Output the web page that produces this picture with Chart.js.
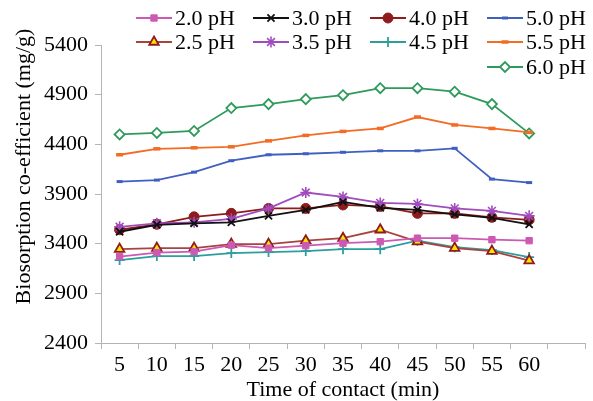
<!DOCTYPE html>
<html>
<head>
<meta charset="utf-8">
<script src="https://cdn.jsdelivr.net/npm/chart.js@4.4.1/dist/chart.umd.min.js"></script>
<style>
html,body{margin:0;padding:0;background:#fff;}
#wrap{width:593px;height:401px;position:relative;}
</style>
</head>
<body>
<div id="wrap"><canvas id="c" width="593" height="401"></canvas></div>
<script>
// ---- data ----
const times = ['5','10','15','20','25','30','35','40','45','50','55','60',''];
const yTickValues = [2400, 2900, 3400, 3900, 4400, 4900, 5400];
const seriesLabels = ['2.0 pH','2.5 pH','3.0 pH','3.5 pH','4.0 pH','4.5 pH','5.0 pH','5.5 pH','6.0 pH'];
const ph20 = [3270, 3310, 3320, 3385, 3355, 3380, 3405, 3420, 3455, 3455, 3440, 3430];
const ph25 = [3345, 3355, 3355, 3395, 3395, 3430, 3455, 3540, 3420, 3355, 3325, 3230];
const ph30 = [3520, 3590, 3605, 3615, 3680, 3740, 3820, 3760, 3740, 3695, 3660, 3595];
const ph35 = [3570, 3605, 3615, 3650, 3755, 3915, 3870, 3810, 3800, 3755, 3730, 3680];
const ph40 = [3540, 3595, 3670, 3705, 3755, 3755, 3790, 3775, 3705, 3705, 3665, 3640];
const ph45 = [3235, 3275, 3275, 3305, 3315, 3325, 3345, 3345, 3430, 3365, 3335, 3265];
const ph50 = [4025, 4040, 4120, 4235, 4295, 4305, 4320, 4335, 4335, 4360, 4050, 4015];
const ph55 = [4295, 4355, 4365, 4375, 4435, 4490, 4530, 4560, 4675, 4595, 4560, 4520];
const ph60 = [4500, 4515, 4535, 4765, 4805, 4855, 4895, 4965, 4965, 4930, 4805, 4510];

const FONT = "'Liberation Serif','Times New Roman',serif";

function ds(label, data, line, fill, stroke, style, radius, bw, rot) {
  return {
    label, data,
    borderColor: line, backgroundColor: line, borderWidth: 1.8,
    pointStyle: style, pointRadius: radius, pointHoverRadius: radius,
    pointBackgroundColor: fill, pointBorderColor: stroke,
    pointBorderWidth: bw, pointRotation: rot || 0,
    tension: 0, fill: false
  };
}

const datasets = [
  ds(seriesLabels[0], ph20, '#CC5AB4', '#CC5AB4', '#CC5AB4', 'rect', 4.5, 1),
  ds(seriesLabels[1], ph25, '#A8443E', '#FFE400', '#8E1C1C', 'triangle', 5.5, 1.8),
  ds(seriesLabels[2], ph30, '#111111', '#111111', '#111111', 'crossRot', 5, 1.8),
  ds(seriesLabels[3], ph35, '#A04CBE', '#A04CBE', '#A04CBE', 'star', 5.5, 1.6),
  ds(seriesLabels[4], ph40, '#8E1C1C', '#8E1C1C', '#8E1C1C', 'circle', 5, 1),
  ds(seriesLabels[5], ph45, '#2E9E9C', '#2E9E9C', '#2E9E9C', 'cross', 5, 1.8),
  ds(seriesLabels[6], ph50, '#4060C0', '#4060C0', '#4060C0', 'line', 3, 3),
  ds(seriesLabels[7], ph55, '#F36C24', '#F36C24', '#F36C24', 'line', 3.5, 3.5),
  ds(seriesLabels[8], ph60, '#2E9A5C', '#FFFFFF', '#2E9A5C', 'rectRot', 5, 1.8)
];

// legend slot (column,row) for each dataset index
const legendSlot = [[0,0],[0,1],[1,0],[1,1],[2,0],[2,1],[3,0],[3,1],[3,2]];

const customLegend = {
  id: 'customLegend',
  afterDraw(chart) {
    const ctx = chart.ctx;
    const colX = [136, 253, 370, 487];
    const rowY = [18, 42, 67];
    const lineLen = 36;
    ctx.save();
    chart.data.datasets.forEach((d, i) => {
      const [c, r] = legendSlot[i];
      const x0 = colX[c], y = rowY[r];
      ctx.strokeStyle = d.borderColor;
      ctx.lineWidth = d.borderWidth;
      ctx.beginPath();
      ctx.moveTo(x0, y);
      ctx.lineTo(x0 + lineLen, y);
      ctx.stroke();
      ctx.fillStyle = d.pointBackgroundColor;
      ctx.strokeStyle = d.pointBorderColor;
      ctx.lineWidth = d.pointBorderWidth;
      Chart.helpers.drawPoint(ctx, {
        pointStyle: d.pointStyle, rotation: d.pointRotation,
        radius: d.pointRadius, borderWidth: d.pointBorderWidth
      }, x0 + lineLen / 2, y);
      ctx.fillStyle = '#000';
      ctx.font = '22px ' + FONT;
      ctx.textBaseline = 'middle';
      ctx.textAlign = 'left';
      ctx.fillText(d.label, x0 + lineLen + 3, y + 1);
    });
    ctx.restore();
  }
};

const axisColor = '#b4b4b4';

new Chart(document.getElementById('c'), {
  type: 'line',
  data: { labels: times, datasets },
  options: {
    responsive: false,
    animation: false,
    devicePixelRatio: 1,
    layout: { padding: { top: 45, right: 8, left: 0, bottom: 0 } },
    plugins: { legend: { display: false }, tooltip: { enabled: false }, title: { display: false } },
    scales: {
      x: {
        type: 'category',
        offset: true,
        grid: { offset: true, drawOnChartArea: false, drawTicks: true, tickLength: 6, color: axisColor, lineWidth: 1 },
        border: { display: true, color: axisColor, width: 1 },
        ticks: { color: '#000', font: { family: FONT, size: 22 }, padding: 3, maxRotation: 0, autoSkip: false },
        title: { display: true, text: 'Time of contact (min)', color: '#000', font: { family: FONT, size: 22, lineHeight: 1 }, padding: { top: 0, bottom: 0 } },
        afterFit(s) { s.height = 58; }
      },
      y: {
        min: yTickValues[0],
        max: yTickValues[yTickValues.length - 1],
        afterBuildTicks(s) { s.ticks = yTickValues.map(v => ({ value: v })); },
        grid: { drawOnChartArea: false, drawTicks: true, tickLength: 6, color: axisColor, lineWidth: 1 },
        border: { display: true, color: axisColor, width: 1 },
        ticks: { color: '#000', font: { family: FONT, size: 22 }, padding: 7, callback: v => String(v) },
        title: { display: true, text: '          Biosorption co-efficient (mg/g)', color: '#000', font: { family: FONT, size: 22, lineHeight: 1 }, padding: { top: 13, bottom: 0 } },
        afterFit(s) { s.width = 101; }
      }
    }
  },
  plugins: [customLegend]
});
</script>
</body>
</html>
